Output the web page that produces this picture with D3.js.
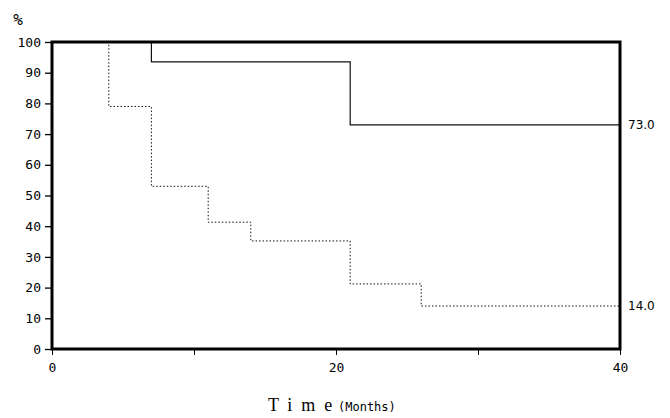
<!DOCTYPE html>
<html>
<head>
<meta charset="utf-8">
<script src="https://cdn.jsdelivr.net/npm/d3@7"></script>
<style>
  body { margin: 0; background: #fff; }
  .tick text { font-family: "DejaVu Sans Mono", monospace; font-size: 13px; fill: #000; }
</style>
</head>
<body>
<div class="chart"></div>
<script>
var svgWidth = 670;
var svgHeight = 418;

var margin = { top: 42, right: 50, bottom: 69, left: 52 };

var width = svgWidth - margin.left - margin.right;
var height = svgHeight - margin.top - margin.bottom;

// step points (month, survival %)
var solidMonths = [0, 7, 21, 40];
var solidValues = [100, 93.5, 73, 73];
var dottedMonths = [0, 4, 7, 11, 14, 21, 26, 40];
var dottedValues = [100, 79, 53, 41.3, 35.2, 21.2, 14, 14];
var endLabels = ["73.0", "14.0"];
var xTicks = [0, 10, 20, 30, 40];
var xTickLabels = ["0", "", "20", "", "40"];
var yTicks = [0, 10, 20, 30, 40, 50, 60, 70, 80, 90, 100];

var svg = d3.select(".chart")
  .append("svg")
  .attr("width", svgWidth)
  .attr("height", svgHeight);

var chartGroup = svg.append("g")
  .attr("transform", `translate(${margin.left}, ${margin.top})`);

var xScale = d3.scaleLinear().domain([0, 40]).range([0, width]);
var yScale = d3.scaleLinear().domain([0, 100]).range([height, 0]);

// axes
var bottomAxis = d3.axisBottom(xScale)
  .tickValues(xTicks)
  .tickSize(6)
  .tickPadding(8)
  .tickFormat((d, i) => xTickLabels[i]);
var leftAxis = d3.axisLeft(yScale)
  .tickValues(yTicks)
  .tickSize(7)
  .tickPadding(4);

var xAxis = chartGroup.append("g")
  .attr("transform", `translate(0, ${height})`)
  .call(bottomAxis);
xAxis.select(".domain").remove();
xAxis.selectAll(".tick line").attr("stroke", "#000").attr("stroke-width", 1);
xAxis.selectAll(".tick text").attr("font-size", 14);

var yAxis = chartGroup.append("g").call(leftAxis);
yAxis.select(".domain").remove();
yAxis.selectAll(".tick line").attr("stroke", "#000").attr("stroke-width", 1.3);

// step lines
function toPoints(months, values) {
  return months.map((m, i) => [m, values[i]]);
}
var line = d3.line()
  .x(d => xScale(d[0]))
  .y(d => yScale(d[1]))
  .curve(d3.curveStepAfter);

chartGroup.append("path")
  .datum(toPoints(dottedMonths, dottedValues))
  .attr("d", line)
  .attr("fill", "none")
  .attr("stroke", "#111")
  .attr("stroke-width", 1)
  .attr("stroke-dasharray", "1.5,2");

chartGroup.append("path")
  .datum(toPoints(solidMonths, solidValues))
  .attr("d", line)
  .attr("fill", "none")
  .attr("stroke", "#111")
  .attr("stroke-width", 1.2);

// frame
chartGroup.append("rect")
  .attr("x", 0)
  .attr("y", 0)
  .attr("width", width)
  .attr("height", height)
  .attr("fill", "none")
  .attr("stroke", "#000")
  .attr("stroke-width", 3);

// end values
var lastValues = [solidValues[solidValues.length - 1], dottedValues[dottedValues.length - 1]];
chartGroup.selectAll(".end-label")
  .data(lastValues)
  .enter()
  .append("text")
  .attr("class", "end-label")
  .attr("x", width + 8)
  .attr("y", d => yScale(d))
  .attr("dy", "0.35em")
  .attr("font-family", "DejaVu Sans, sans-serif")
  .attr("font-size", 12)
  .text((d, i) => endLabels[i]);

// % label
svg.append("text")
  .attr("x", 18)
  .attr("y", 25)
  .attr("text-anchor", "middle")
  .attr("font-family", "DejaVu Sans Mono, monospace")
  .attr("font-size", 16)
  .text("%");

// x axis title, two pieces
svg.append("text")
  .attr("x", 268)
  .attr("y", 411)
  .attr("font-family", "Liberation Serif, serif")
  .attr("font-size", 18)
  .attr("letter-spacing", 9)
  .text("Time");
svg.append("text")
  .attr("x", 338)
  .attr("y", 411)
  .attr("font-family", "DejaVu Sans Mono, monospace")
  .attr("font-size", 12)
  .text("(Months)");
</script>
</body>
</html>
